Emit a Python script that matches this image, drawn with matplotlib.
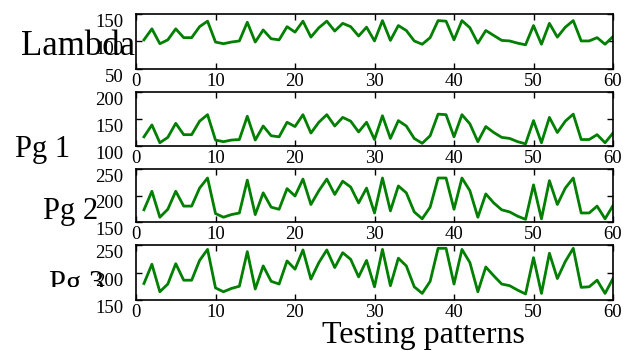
import numpy as np
import matplotlib
matplotlib.use("Agg")
import matplotlib.pyplot as plt
from matplotlib.transforms import Bbox, TransformedBbox

x = list(range(1, 61))

lambda_vals = [103, 123, 96, 103, 123, 107, 107, 127, 137, 99,
               96, 99, 101, 135, 99, 121, 105, 103, 127, 117,
               137, 108, 125, 137, 119, 133, 127, 110, 126, 101,
               138, 102, 129, 120, 101, 95, 107, 138, 137, 103,
               138, 125, 97, 120, 111, 102, 101, 97, 94, 129,
               95, 133, 108, 126, 138, 101, 101, 107, 95, 109]

pg1_vals = [117, 139, 106, 116, 142, 121, 121, 146, 158, 111,
            108, 111, 112, 155, 111, 137, 119, 117, 144, 136,
            158, 124, 144, 158, 137, 153, 146, 126, 144, 112,
            156, 114, 147, 137, 114, 105, 119, 159, 158, 117,
            158, 141, 108, 136, 125, 116, 114, 108, 104, 147,
            106, 153, 125, 146, 159, 112, 112, 121, 106, 124]

pg2_vals = [173, 208, 159, 174, 208, 180, 180, 214, 233, 166,
            159, 164, 167, 229, 164, 205, 178, 174, 213, 199,
            231, 183, 209, 231, 202, 227, 216, 186, 214, 167,
            233, 171, 218, 205, 169, 156, 178, 233, 233, 174,
            233, 209, 159, 203, 186, 173, 169, 161, 155, 220,
            156, 228, 183, 214, 233, 167, 167, 180, 156, 181]

pg3_vals = [180, 215, 165, 179, 216, 186, 186, 222, 242, 172,
            165, 171, 175, 238, 170, 212, 184, 179, 221, 206,
            241, 188, 218, 241, 209, 236, 224, 192, 222, 174,
            242, 176, 226, 212, 174, 162, 184, 244, 244, 179,
            242, 218, 165, 210, 194, 179, 176, 168, 161, 227,
            162, 235, 189, 220, 244, 173, 174, 186, 162, 189]

series = [lambda_vals, pg1_vals, pg2_vals, pg3_vals]
ylims = [(50, 150), (100, 200), (150, 250), (150, 250)]
yticks = [[50, 100, 150], [100, 150, 200], [150, 200, 250], [150, 200, 250]]
xticks = [0, 10, 20, 30, 40, 50, 60]
ylabels = ["Lambda", "Pg 1", "Pg 2", "Pg 3"]
xlabel = "Testing patterns"

W, H = 636, 351
fig = plt.figure(figsize=(W / 100, H / 100), dpi=100)
plt.rcParams['font.family'] = ['Liberation Serif', 'DejaVu Serif']

# axes boxes in pixels: (top, bottom)
boxes = [(14, 69), (92, 146), (169, 222), (245, 300)]
left_px, right_px = 136, 613

for i, (top, bot) in enumerate(boxes):
    ax = fig.add_axes([left_px / W, 1 - bot / H, (right_px - left_px) / W, (bot - top) / H])
    ax.plot(x, series[i], color='#007f00', linewidth=2.0)
    ax.set_xlim(0, 60)
    ax.set_ylim(*ylims[i])
    ax.set_yticks(yticks[i])
    ax.set_xticks(xticks)
    ax.tick_params(direction='in', top=True, right=True, length=4, width=1,
                   labelsize=13.5, colors='black')
    ax.tick_params(axis='y', pad=9)
    ax.tick_params(axis='x', pad=3)
    for lab in ax.get_yticklabels():
        lab.set_va('top')
    for sp in ax.spines.values():
        sp.set_linewidth(1.2)

# y labels placed as in reference
lab_pos = [(78, 55, 25), (43, 157, 22), (71, 219, 22), (77, 292, 22)]
for i, (px, py, fs) in enumerate(lab_pos):
    t = fig.text(px / W, 1 - py / H, ylabels[i], ha='center', va='baseline', fontsize=fs)
    if i == 3:
        clip = TransformedBbox(Bbox([[0, 1 - 287 / H], [1, 1]]), fig.transFigure)
        t.set_clip_box(clip)
        t.set_clip_on(True)

fig.text(423 / W, 1 - 343 / H, xlabel, ha='center', va='baseline', fontsize=23)

fig.savefig("out.png", dpi=100)
